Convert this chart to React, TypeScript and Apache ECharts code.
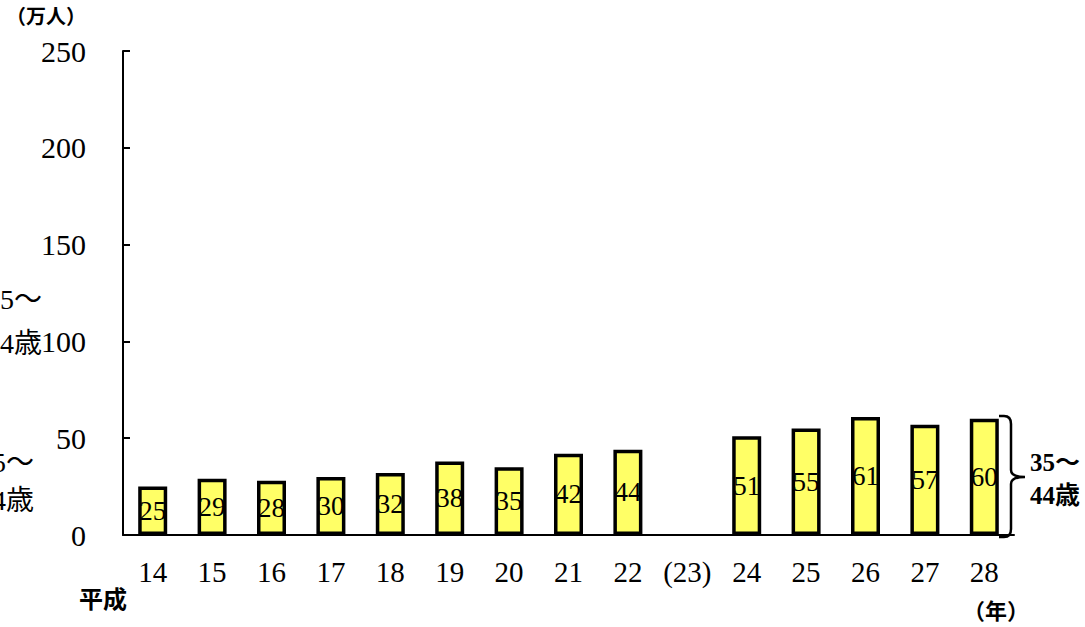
import React, { useEffect, useRef } from "react";
import * as echarts from "echarts";

const categories = ["14", "15", "16", "17", "18", "19", "20", "21", "22", "(23)", "24", "25", "26", "27", "28"];
const values: (number | null)[] = [25, 29, 28, 30, 32, 38, 35, 42, 44, null, 51, 55, 61, 57, 60];
const yTicks = { min: 0, max: 250, interval: 50 };

const bracePath =
  "M999,416 L1004,416 Q1011,416 1011,424 L1011,470 Q1011,477 1025,477 Q1011,477 1011,484 L1011,529 Q1011,537 1004,537 L999,537";

export default function App() {
  const ref = useRef<HTMLDivElement>(null);
  useEffect(() => {
    document.body.style.margin = "0";
    echarts.graphic.registerShape("brace", echarts.graphic.extendPath(bracePath, {}) as any);
    const chart = echarts.init(ref.current!, null, { renderer: "svg" });
    const serif = "'Liberation Serif', 'Times New Roman', serif";
    const cjk = "'Noto Sans CJK JP', sans-serif";
    const mixed = "'Liberation Serif', 'Noto Sans CJK JP', serif";
    chart.setOption({
      animation: false,
      backgroundColor: "#ffffff",
      grid: { left: 123, top: 51, width: 891, bottom: 92 },
      xAxis: {
        type: "category",
        data: categories,
        axisLine: { lineStyle: { color: "#000", width: 2 } },
        axisTick: { inside: true, length: 7, lineStyle: { color: "#000", width: 2 } },
        axisLabel: { color: "#000", fontFamily: serif, fontSize: 29, margin: 22, interval: 0 },
      },
      yAxis: {
        type: "value",
        min: yTicks.min,
        max: yTicks.max,
        interval: yTicks.interval,
        axisLine: { show: true, lineStyle: { color: "#000", width: 2 } },
        axisTick: { show: true, inside: true, length: 7, lineStyle: { color: "#000", width: 2 } },
        splitLine: { show: false },
        axisLabel: { color: "#000", fontFamily: serif, fontSize: 30, margin: 37 },
      },
      series: [
        {
          type: "bar",
          data: values,
          barWidth: 29,
          itemStyle: { color: "#FFFF66", borderColor: "#000", borderWidth: 3.5 },
          label: {
            show: true,
            position: "inside",
            color: "#000",
            fontFamily: serif,
            fontSize: 27,
          },
        },
      ],
      graphic: [
        { type: "text", left: 6, top: 5, style: { text: "（万人）", font: `bold 20px ${cjk}`, fill: "#000" } },
        { type: "text", left: 79, top: 585, style: { text: "平成", font: `bold 24px ${cjk}`, fill: "#000" } },
        { type: "text", left: 963, top: 598, style: { text: "（年）", font: `bold 22px ${cjk}`, fill: "#000" } },
        { type: "brace", x: 0, y: 0, style: { stroke: "#000", fill: "none", lineWidth: 2.5 } },
        {
          type: "text",
          left: 1030,
          top: 446,
          style: { text: "35～\n44歳", font: `bold 25px ${mixed}`, lineHeight: 33, fill: "#000" },
        },
        {
          type: "text",
          x: -14,
          y: 277,
          style: { text: "35～\n44歳", font: `28px ${mixed}`, lineHeight: 44, fill: "#000" },
        },
        {
          type: "text",
          x: -22,
          y: 443,
          style: { text: "35～\n44歳", font: `28px ${mixed}`, lineHeight: 38, fill: "#000" },
        },
      ],
    });
    return () => chart.dispose();
  }, []);
  return <div ref={ref} style={{ width: 1085, height: 627 }} />;
}
